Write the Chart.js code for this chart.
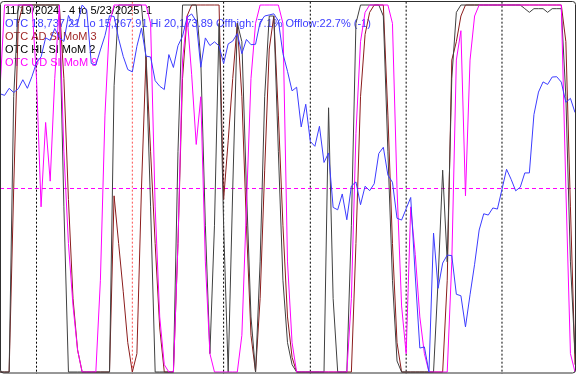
<!DOCTYPE html>
<html>
<head>
<meta charset="utf-8">
<script src="https://cdn.jsdelivr.net/npm/chart.js@4"></script>
<style>
  html, body { margin: 0; padding: 0; background: #fff; }
  canvas { display: block; }
</style>
</head>
<body>
<canvas id="chart" width="576" height="374"></canvas>
<script>
// OTC close, 11/19/2024 .. 5/23/2025 (one value per trading day)
const otc = [
  18987, 18966, 19060, 19004, 19054, 19175, 19060, 19218, 19404, 19481,
  19735, 19701, 19860, 19737, 19687, 20034, 19903, 19927, 20174, 20109,
  19393, 19372, 19573, 19764, 20031, 20020, 19722, 19487, 19311, 19280,
  19622, 19865, 19490, 19479, 19162, 19088, 19044, 19511, 19339, 19630,
  19757, 20010, 20054, 19955, 19342, 19734, 19632, 19681, 19627, 19392,
  19654, 19692, 19791, 19523, 19714, 19643, 19649, 19945, 20027, 20041,
  20056, 19962, 19524, 19287, 19026, 19075, 18544, 18847, 18350, 18285,
  18553, 18069, 18196, 17468, 17436, 17648, 17303, 17754, 17809, 17504,
  17751, 17692, 17784, 18189, 18272, 17900, 17804, 17323, 17299, 17450,
  17601, 16551, 15588, 15603, 15268, 17125, 16387, 16724, 16831, 16824,
  16307, 16287, 15871, 16300, 16708, 17166, 17383, 17366, 17461, 17446,
  17710, 17978, 17844, 17690, 17738, 17929, 17929, 18708, 19010, 19146,
  19112, 19211, 19215, 19143, 18873, 18926, 18737
];
const otcLo = 15267.91;
const otcHi = 20173.89;

// OTC AD SI MoM 3 (0..100)
const adSi = [
  0, 0, 0, 50, 95, 100, 100, 100, 100, 100,
  100, 100, 100, 100, 80, 47, 20, 6, 0, 0,
  0, 0, 0, 0, 0, 48, 35, 22, 8, 0,
  5, 50, 86, 60, 35, 12, 0, 0, 0, 35,
  80, 97, 100, 100, 100, 100, 100, 100, 100, 47,
  63, 80, 95, 75, 40, 10, 0, 20, 55, 88,
  97, 70, 40, 15, 4, 0, 0, 0, 0, 0,
  0, 0, 0, 0, 0, 0, 0, 0, 35, 75,
  92, 98, 100, 100, 100, 70, 35, 8, 0, 0,
  0, 0, 0, 0, 0, 0, 0, 0, 25, 85,
  90, 97, 100, 100, 100, 100, 100, 100, 100, 100,
  100, 100, 100, 100, 100, 100, 100, 100, 100, 100,
  100, 100, 100, 100, 90, 45, 2
];

// OTC HL SI MoM 2 (0..100)
const hlSi = [
  0, 0, 0, 75, 100, 100, 100, 100, 100, 100,
  100, 100, 100, 100, 45, 0, 0, 0, 0, 0,
  0, 0, 0, 0, 0, 78, 100, 100, 100, 100,
  100, 100, 85, 45, 0, 0, 0, 0, 0, 60,
  100, 100, 100, 100, 85, 40, 5, 40, 95, 40,
  0, 50, 95, 90, 50, 15, 0, 30, 75, 97,
  97, 60, 25, 8, 2, 0, 0, 0, 0, 0,
  0, 0, 72, 20, 0, 0, 0, 40, 95, 100,
  100, 100, 100, 100, 97, 60, 25, 3, 0, 0,
  0, 0, 0, 0, 0, 0, 25, 55, 30, 80,
  98, 100, 100, 100, 100, 100, 100, 100, 100, 100,
  100, 100, 100, 100, 100, 99, 98, 99, 99, 99,
  98, 99, 99, 99, 75, 30, 5
];

// OTC UD SI MoM 9 (0..100)
const udSi = [
  77, 100, 100, 100, 100, 100, 100, 100, 80, 45,
  68, 52, 80, 100, 60, 35, 18, 6, 0, 0,
  0, 0, 25, 70, 95, 100, 100, 100, 100, 100,
  100, 100, 100, 95, 45, 15, 2, 0, 0, 35,
  85, 97, 81, 62, 75, 30, 5, 0, 0, 0,
  0, 0, 0, 10, 45, 80, 95, 100, 100, 100,
  100, 100, 95, 30, 8, 0, 0, 0, 0, 0,
  0, 0, 0, 0, 0, 0, 0, 20, 65, 90,
  98, 100, 100, 100, 100, 100, 95, 50, 18, 5,
  45, 32, 15, 5, 0, 0, 0, 0, 0, 30,
  85, 93, 48, 85, 97, 100, 100, 100, 100, 100,
  100, 100, 100, 100, 100, 100, 100, 100, 100, 100,
  100, 100, 100, 100, 50, 5, 0
];

// first trading day of each month (index into the series)
const monthStarts = [8, 29, 49, 68, 89, 110];
const yearStart = 29;
const midLevel = 50;

const legendLines = [
  { text: '11/19/2024 - 4 to 5/23/2025 -1', color: '#000000' },
  { text: 'OTC 18,737.21 Lo 15,267.91 Hi 20,173.89 Offhigh: 7.1% Offlow:22.7% (-1)', color: '#3c3cff' },
  { text: 'OTC AD SI MoM 3', color: '#a02828' },
  { text: 'OTC HL SI MoM 2', color: '#000000' },
  { text: 'OTC UD SI MoM 9', color: '#ff00ff' }
];

const toPoints = arr => arr.map((v, i) => ({ x: i, y: v }));

const gridSets = monthStarts.map(i => ({
  data: [{ x: i, y: -1 }, { x: i, y: 101 }],
  borderColor: i === yearStart ? '#ff5050' : '#000000',
  borderDash: [2, 2],
  borderWidth: 1,
  order: 20,
  clip: false
}));

// legend text + frame
const panelPlugin = {
  id: 'panel',
  beforeDatasetsDraw(chart) {
    const ctx = chart.ctx;
    ctx.save();
    ctx.font = '11px "Liberation Sans", Arial, sans-serif';
    ctx.textBaseline = 'alphabetic';
    legendLines.forEach((l, n) => {
      ctx.fillStyle = l.color;
      ctx.fillText(l.text, 5, 14 + n * 13);
    });
    ctx.restore();
  },
  afterDraw(chart) {
    const ctx = chart.ctx;
    ctx.save();
    ctx.strokeStyle = '#303030';
    ctx.lineWidth = 1;
    ctx.beginPath();
    ctx.roundRect(0.5, 1.5, 575, 371.5, 3);
    ctx.stroke();
    ctx.restore();
  }
};

new Chart(document.getElementById('chart'), {
  type: 'line',
  data: {
    datasets: [
      { data: toPoints(otc), yAxisID: 'yOtc', borderColor: '#3c3cff', order: 0 },
      { data: toPoints(udSi), borderColor: '#ff00ff', order: 1 },
      { data: toPoints(hlSi), borderColor: '#404040', order: 2 },
      { data: toPoints(adSi), borderColor: '#8b1c1c', order: 3 },
      { data: [{ x: 0, y: midLevel }, { x: 126, y: midLevel }], borderColor: '#ff00ff',
        borderDash: [4, 3], order: 10 },
      ...gridSets
    ]
  },
  options: {
    responsive: false,
    animation: false,
    devicePixelRatio: 1,
    layout: { padding: { top: 5, bottom: 2, left: 0, right: 1 } },
    elements: {
      point: { radius: 0 },
      line: { borderWidth: 1, tension: 0, fill: false }
    },
    datasets: { line: { clip: 2 } },
    scales: {
      x: { type: 'linear', min: 0, max: 126, display: false },
      y: { min: 0, max: 100, display: false },
      yOtc: { min: otcLo, max: otcHi, display: false }
    },
    plugins: { legend: { display: false }, tooltip: { enabled: false } }
  },
  plugins: [panelPlugin]
});
</script>
</body>
</html>
